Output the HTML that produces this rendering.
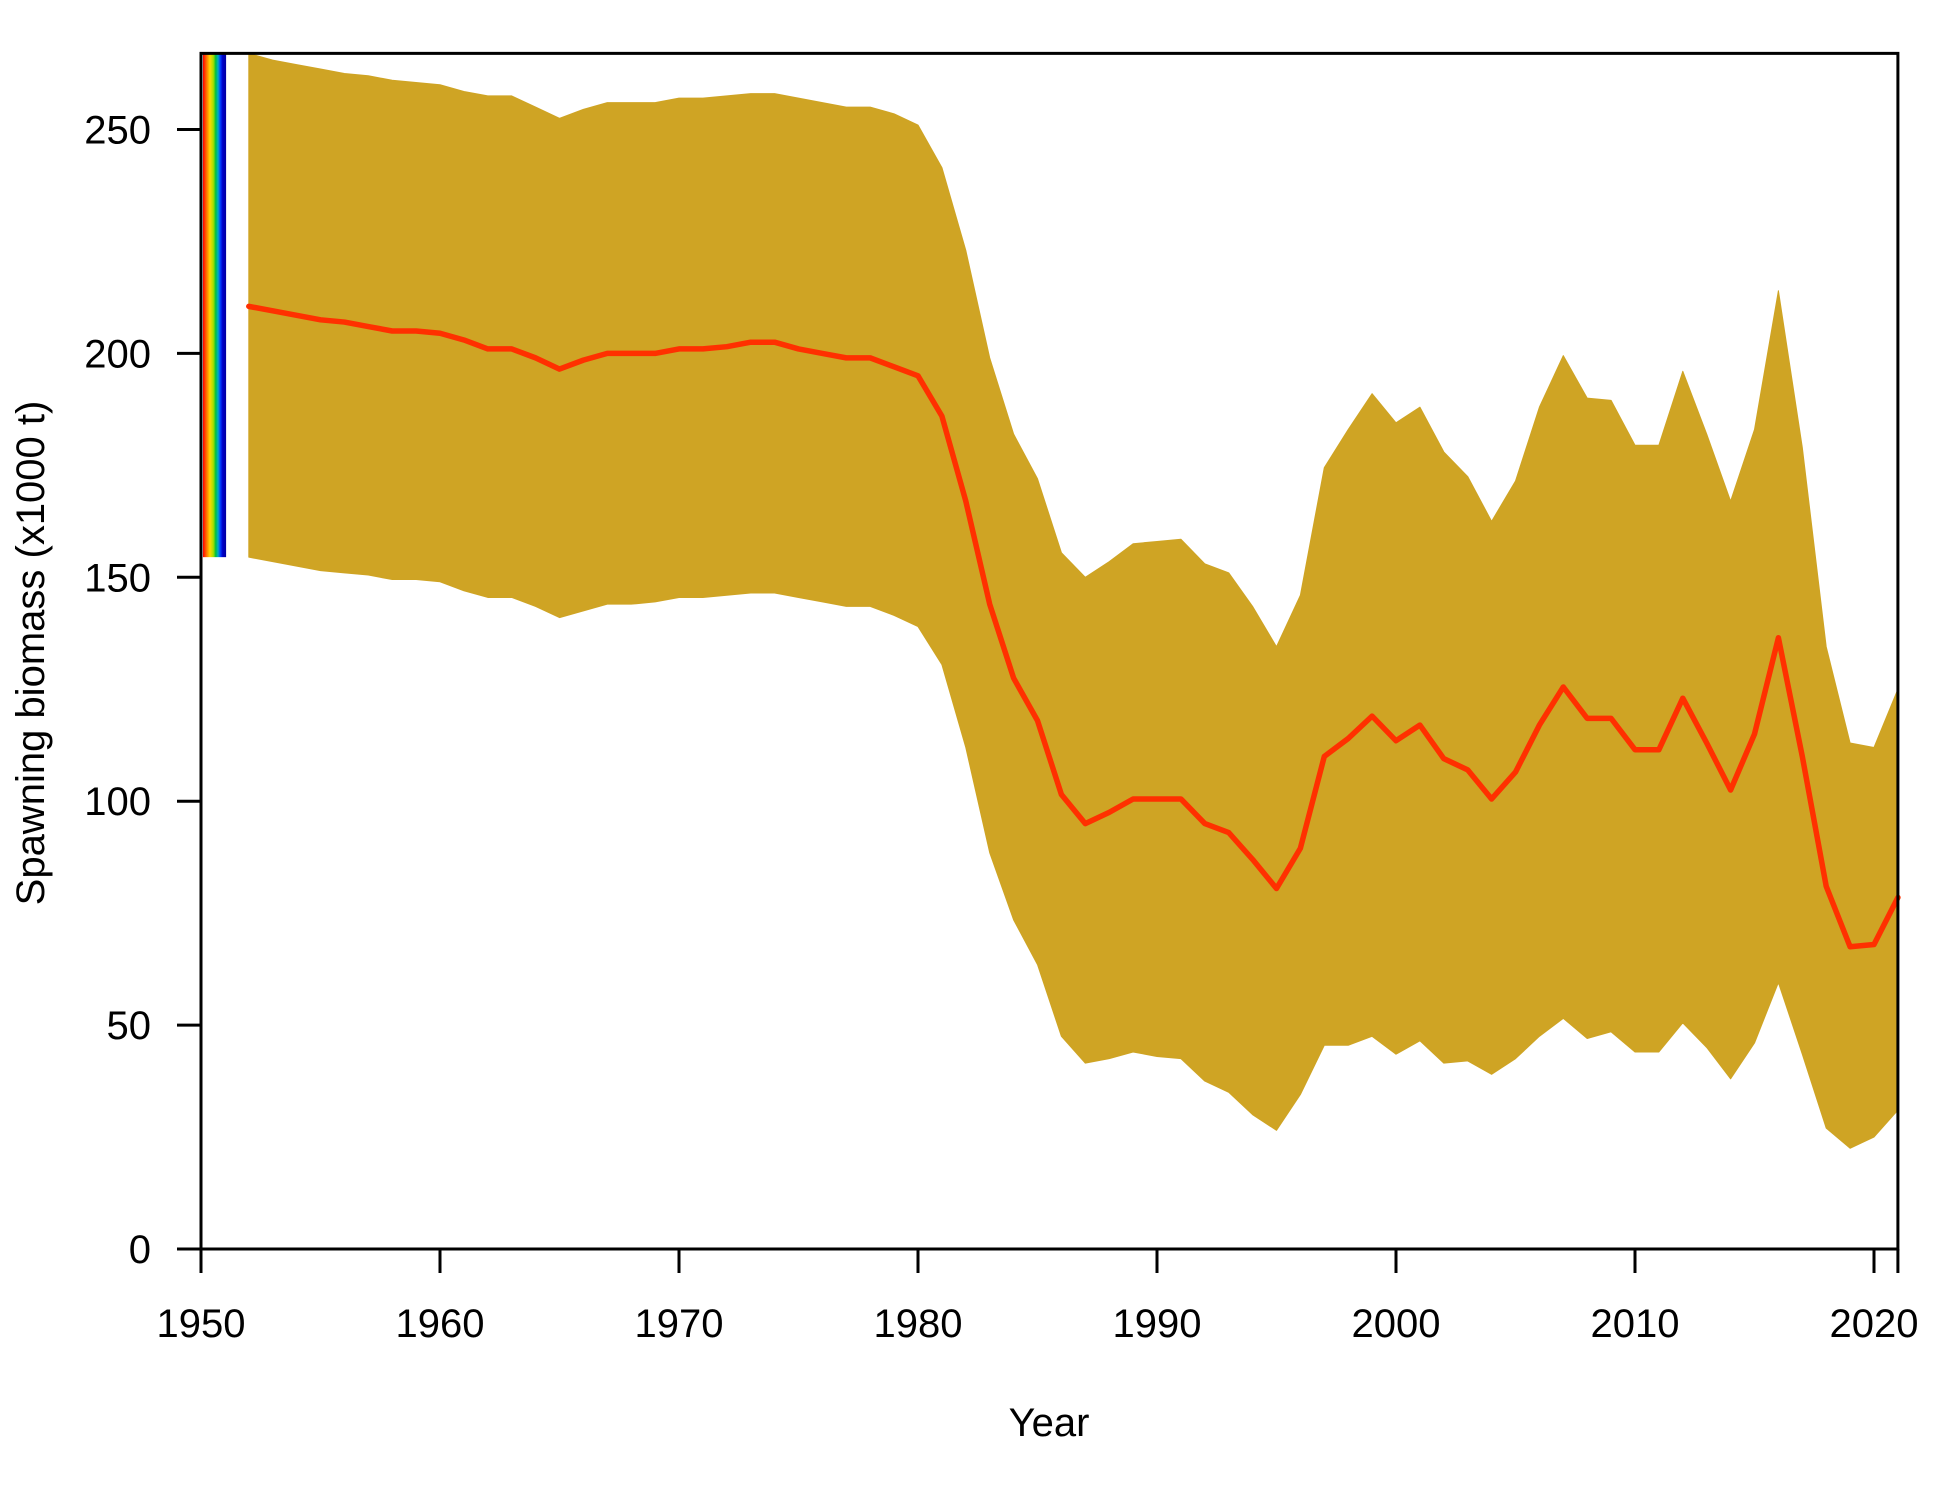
<!DOCTYPE html>
<html><head><meta charset="utf-8"><style>
html,body{margin:0;padding:0;background:#fff;}
svg{display:block;font-family:"Liberation Sans",Arial,sans-serif;}
</style></head><body>
<svg id="chart" width="1950" height="1500" viewBox="0 0 1950 1500" xmlns="http://www.w3.org/2000/svg">
<defs>
<linearGradient id="rainbow" x1="0" x2="1" y1="0" y2="0">
<stop offset="0" stop-color="#ff0000"/>
<stop offset="0.15" stop-color="#ff7000"/>
<stop offset="0.3" stop-color="#ffd800"/>
<stop offset="0.45" stop-color="#a0e000"/>
<stop offset="0.55" stop-color="#00c040"/>
<stop offset="0.65" stop-color="#00b0c0"/>
<stop offset="0.75" stop-color="#0040ff"/>
<stop offset="0.85" stop-color="#0000c8"/>
<stop offset="1" stop-color="#0000a0"/>
</linearGradient>
</defs>
<g id="plot"></g>
<text x="0" y="0" transform="translate(44,653) rotate(-90)" text-anchor="middle" font-size="40">Spawning biomass (x1000 t)</text>
<text x="1049" y="1436" text-anchor="middle" font-size="40">Year</text>
</svg>
<script>
const years = [];
for (let y = 1952; y <= 2021; y++) years.push(y);
const median = [210.5,209.5,208.5,207.5,207,206,205,205,204.5,203,201,201,199,196.5,198.5,200,200,200,201,201,201.5,202.5,202.5,201,200,199,199,197,195,186,167,144,127.5,118,101.5,95,97.5,100.5,100.5,100.5,95,93,87,80.5,89.5,110,114,119,113.5,117,109.5,107,100.5,106.5,117,125.5,118.5,118.5,111.5,111.5,123,113,102.5,115,136.5,110,81,67.5,68,78.5];
const upper = [267,265.5,264.5,263.5,262.5,262,261,260.5,260,258.5,257.5,257.5,255,252.5,254.5,256,256,256,257,257,257.5,258,258,257,256,255,255,253.5,251,241.5,223,199,182,172,155.5,150,153.5,157.5,158,158.5,153,151,143.5,134.5,146,174.5,183,191,184.5,188,178,172.5,162.5,171.5,188,199.5,190,189.5,179.5,179.5,196,182,167,183,214,179,134.5,113,112,125];
const lower = [154.5,153.5,152.5,151.5,151,150.5,149.5,149.5,149,147,145.5,145.5,143.5,141,142.5,144,144,144.5,145.5,145.5,146,146.5,146.5,145.5,144.5,143.5,143.5,141.5,139,130.5,112,88.5,73.5,63.5,47.5,41.5,42.5,44,43,42.5,37.5,35,30,26.5,34.5,45.5,45.5,47.5,43.5,46.5,41.5,42,39,42.5,47.5,51.5,47,48.5,44,44,50.5,45,38,46,59.5,43.5,27,22.5,25,31];
const xTicks = [1950,1960,1970,1980,1990,2000,2010,2020];
const yTicks = [0,50,100,150,200,250];
const rainbowTop = 267, rainbowBottom = 154.5;

const X0 = 201, PPY = 23.9, Y0 = 1249, PPU = 4.478;
const xs = v => X0 + (v - 1950) * PPY;
const ys = v => Y0 - v * PPU;
const xmax = 2021, ymax = 267;
const NS = "http://www.w3.org/2000/svg";
const g = document.getElementById('plot');
function mk(tag, attrs) {
  const e = document.createElementNS(NS, tag);
  for (const k in attrs) e.setAttribute(k, attrs[k]);
  g.appendChild(e);
  return e;
}
const rb = mk('rect', {x: xs(1950)+2, y: ys(rainbowTop), width: xs(1951.05)-xs(1950)-2, height: ys(rainbowBottom)-ys(rainbowTop), fill: 'url(#rainbow)'});


let pts = years.map((y,i)=>xs(y)+','+ys(upper[i]));
for (let i = years.length-1; i >= 0; i--) pts.push(xs(years[i])+','+ys(lower[i]));
const band = mk('polygon', {points: pts.join(' '), fill: '#cfa424', stroke: '#cfa424', 'stroke-width': 1, 'stroke-linejoin': 'round'});


const line = mk('polyline', {points: years.map((y,i)=>xs(y)+','+ys(median[i])).join(' '), fill: 'none', stroke: '#ff3000', 'stroke-width': 5.5, 'stroke-linejoin': 'round', 'stroke-linecap': 'round'});


const box = mk('rect', {x: xs(1950), y: ys(ymax), width: xs(xmax)-xs(1950), height: ys(0)-ys(ymax), fill: 'none', stroke: '#000', 'stroke-width': 3});


xTicks.concat([xmax]).forEach((t, i) => {
  const tk = mk('line', {x1: xs(t), x2: xs(t), y1: Y0, y2: Y0+24, stroke: '#000', 'stroke-width': 3});
  
  
  if (i < xTicks.length) {
    const tx = mk('text', {x: xs(t), y: 1337, 'text-anchor': 'middle', 'font-size': 40});
    tx.textContent = t;
    
    
  }
});
yTicks.forEach(t => {
  const tk = mk('line', {x1: X0-24, x2: X0, y1: ys(t), y2: ys(t), stroke: '#000', 'stroke-width': 3});
  
  
  const tx = mk('text', {x: 151, y: ys(t)+14, 'text-anchor': 'end', 'font-size': 40});
  tx.textContent = t;
  
  
});
</script>
</body></html>
